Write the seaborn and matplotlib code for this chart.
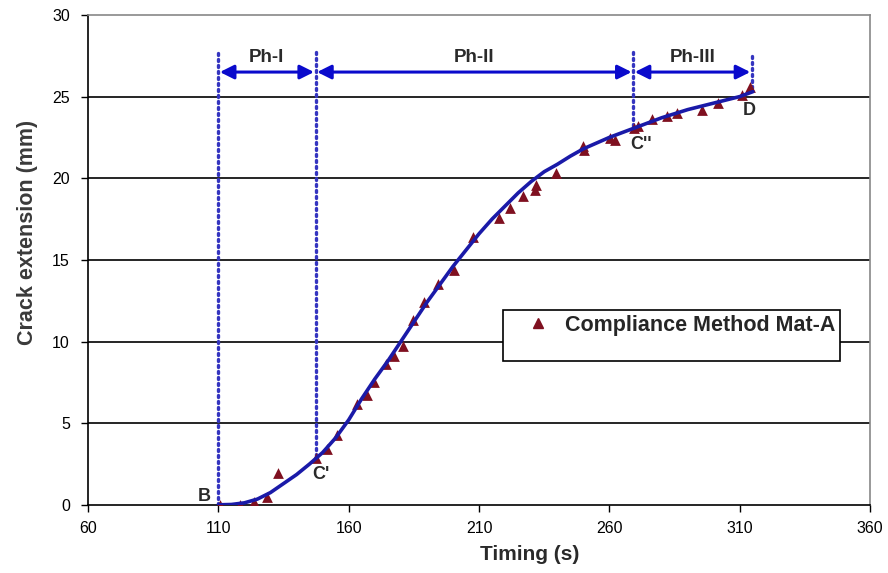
import matplotlib
matplotlib.use("Agg")
import matplotlib.pyplot as plt
from matplotlib.lines import Line2D
import seaborn as sns
import pandas as pd

# measured points (Compliance Method Mat-A)
time_pts = [110.8, 118.5, 123.6, 128.7, 132.8, 147.3, 151.5, 155.4, 163.3, 167.2,
            169.6, 174.2, 177.3, 180.7, 184.5, 188.8, 194.1, 200.4, 207.6, 217.8,
            221.7, 226.8, 231.3, 232.0, 239.6, 249.9, 250.4, 260.1, 262.0, 269.6,
            271.0, 276.2, 281.9, 285.8, 295.4, 301.8, 310.8, 314.0]
crack_pts = [0.0, 0.0, 0.2, 0.5, 1.94, 2.86, 3.4, 4.3, 6.2, 6.7,
             7.55, 8.6, 9.1, 9.7, 11.3, 12.4, 13.5, 14.4, 16.4, 17.55,
             18.2, 18.9, 19.3, 19.6, 20.3, 21.95, 21.7, 22.45, 22.35, 23.1,
             23.2, 23.6, 23.8, 24.0, 24.2, 24.6, 25.1, 25.6]

# fitted curve
curve_t = [110, 115, 120, 125, 130, 135, 140, 145, 150, 155, 160, 165, 170, 175,
           180, 185, 190, 195, 200, 205, 210, 215, 220, 225, 230, 235, 240, 245, 250,
           260, 270, 280, 290, 300, 310, 315]
curve_y = [0.0, 0.02, 0.12, 0.35, 0.75, 1.3, 1.85, 2.5, 3.2, 4.1, 5.2, 6.5, 7.7, 8.8,
           10.0, 11.2, 12.4, 13.5, 14.6, 15.6, 16.6, 17.5, 18.3, 19.1, 19.8, 20.4, 20.85,
           21.35, 21.8, 22.5, 23.1, 23.7, 24.2, 24.6, 25.0, 25.3]

# phase boundaries
bound_names = ["B", "C'", "C''", "D"]
bound_t = [110.0, 147.3, 269.1, 314.6]
bound_y = [0.0, 3.0, 23.2, 25.5]
phase_names = ["Ph-I", "Ph-II", "Ph-III"]

x_ticks = [60, 110, 160, 210, 260, 310, 360]
y_ticks = [0, 5, 10, 15, 20, 25, 30]

sns.set_style("white")
plt.rcParams['font.family'] = ['Liberation Sans', 'DejaVu Sans']

fig = plt.figure(figsize=(8.88, 5.73), dpi=100)
ax = fig.add_axes([0.099, 0.119, 0.881, 0.855])

for yv in y_ticks[1:-1]:
    ax.axhline(yv, color='black', lw=1.2, zorder=1)

line_col = '#1a1aa8'
pt_col = '#7f1020'
dot_col = '#3535c0'
txt_col = '#2a2a2a'

top_y = 27.7
for t, yb in zip(bound_t, bound_y):
    ax.plot([t, t], [yb, top_y], color=dot_col, lw=2.4, ls=(0, (0.6, 1.2)),
            dash_capstyle='round', zorder=2)

df_curve = pd.DataFrame({"t": curve_t, "y": curve_y})
sns.lineplot(data=df_curve, x="t", y="y", ax=ax, color=line_col, lw=2.6,
             zorder=4, estimator=None, sort=False)

df_pts = pd.DataFrame({"t": time_pts, "y": crack_pts})
sns.scatterplot(data=df_pts, x="t", y="y", ax=ax, marker='^', color=pt_col,
                s=60, edgecolor=pt_col, linewidth=0, zorder=3, legend=False)

arrow_y = 26.5
for i, name in enumerate(phase_names):
    x0, x1 = bound_t[i], bound_t[i + 1]
    ax.annotate("", xy=(x1 - 0.6, arrow_y), xytext=(x0 + 0.6, arrow_y),
                arrowprops=dict(arrowstyle='<|-|>', color='#0a0acc', lw=2.2,
                                mutation_scale=21, shrinkA=0, shrinkB=0), zorder=5)
    ax.text((x0 + x1) / 2, arrow_y + 0.4, name, ha='center', va='bottom',
            fontsize=13.5, fontweight='bold', color=txt_col)

lbl_off = [(-3.0, 0.0, 'right', 'bottom'), (2.0, -0.6, 'center', 'top'),
           (3.0, -0.6, 'center', 'top'), (-1.0, -0.85, 'center', 'top')]
for name, t, yb, (dx, dy, ha, va) in zip(bound_names, bound_t, bound_y, lbl_off):
    ax.text(t + dx, yb + dy, name, ha=ha, va=va,
            fontsize=13, fontweight='bold', color=txt_col, zorder=6)

ax.set_xlim(60, 360)
ax.set_ylim(0, 30)
ax.set_xticks(x_ticks)
ax.set_yticks(y_ticks)
ax.tick_params(axis='both', direction='out', length=5, width=1, labelsize=11.5,
               colors='black', left=True, bottom=True)
ax.tick_params(axis='x', pad=7)
ax.tick_params(axis='y', pad=8)
ax.set_xlabel("Timing (s)", fontsize=15, fontweight='bold', color=txt_col, va='center')
ax.xaxis.set_label_coords(0.565, -0.102)
ax.set_ylabel("Crack extension (mm)", fontsize=15.5, fontweight='bold', color='#3a3a3a',
              va='center')
ax.yaxis.set_label_coords(-0.0775, 0.555)
for side in ['left', 'bottom']:
    ax.spines[side].set_color('black')
    ax.spines[side].set_linewidth(1.2)
for side in ['top', 'right']:
    ax.spines[side].set_color('#888888')
    ax.spines[side].set_linewidth(1.2)

h1 = Line2D([], [], marker='^', color=pt_col, ls='none', markersize=7)
h2 = Line2D([], [], ls='none')
leg = ax.legend(handles=[h1, h2], labels=["Compliance Method Mat-A", " "],
                loc='upper left', bbox_to_anchor=(0.5307, 0.398), borderaxespad=0,
                frameon=True, fancybox=False, edgecolor='black', framealpha=1,
                prop={'weight': 'bold', 'size': 15.5}, borderpad=0.22,
                handletextpad=-0.15, handlelength=2.8, labelspacing=0.0)
leg.get_frame().set_linewidth(1.2)
leg.set_zorder(10)

fig.savefig("out.png", dpi=100)
